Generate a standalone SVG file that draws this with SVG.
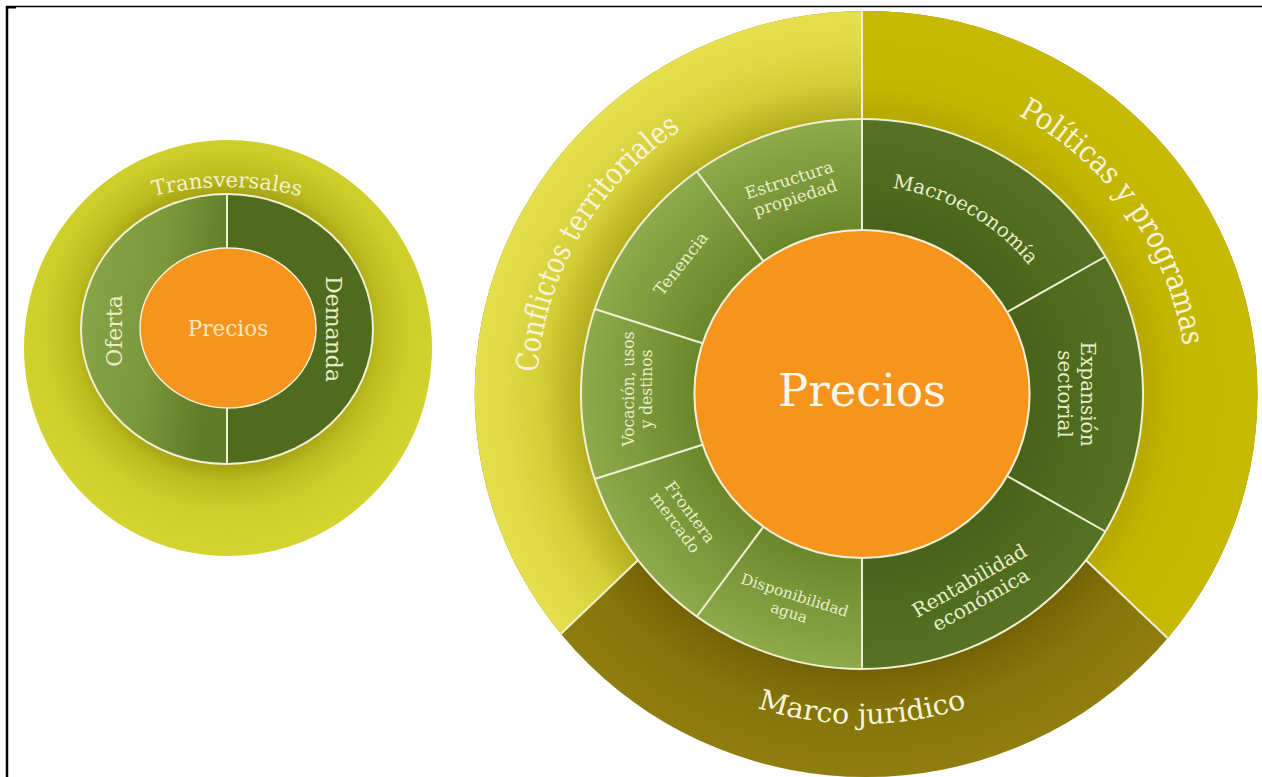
<svg xmlns="http://www.w3.org/2000/svg" width="1262" height="777" viewBox="0 0 1262 777">
<style>
.t{font-family:'DejaVu Serif','Liberation Serif',serif;text-anchor:middle}
.seg{fill:#e9edc9}
.big{fill:#f8f5dc}
.div{stroke:#f1efd3;stroke-width:2;fill:none}
</style>
<defs>
<radialGradient id="gSmallOuter" gradientUnits="userSpaceOnUse" cx="227" cy="329" r="220">
<stop offset="0.62" stop-color="#a6a414"/>
<stop offset="0.7" stop-color="#bcbc20"/>
<stop offset="0.82" stop-color="#cccd29"/>
<stop offset="1" stop-color="#d3d42f"/>
</radialGradient>
<linearGradient id="gOferta" x1="0" y1="0" x2="1" y2="0.3">
<stop offset="0" stop-color="#8aa749"/>
<stop offset="0.6" stop-color="#7a9739"/>
<stop offset="1" stop-color="#5f7c29"/>
</linearGradient>
<radialGradient id="gConf" gradientUnits="userSpaceOnUse" cx="0" cy="0" r="383">
<stop offset="0.70" stop-color="#a39c12"/>
<stop offset="0.72" stop-color="#b5ae1e"/>
<stop offset="0.82" stop-color="#d4ce38"/>
<stop offset="0.92" stop-color="#e0da46"/>
<stop offset="1" stop-color="#e6e04e"/>
</radialGradient>
<radialGradient id="gPol" gradientUnits="userSpaceOnUse" cx="0" cy="0" r="383">
<stop offset="0.70" stop-color="#a89c00"/>
<stop offset="0.72" stop-color="#b6a900"/>
<stop offset="0.8" stop-color="#c3b600"/>
<stop offset="1" stop-color="#c7ba04"/>
</radialGradient>
<radialGradient id="gMarco" gradientUnits="userSpaceOnUse" cx="0" cy="0" r="383">
<stop offset="0.70" stop-color="#665604"/>
<stop offset="0.72" stop-color="#746306"/>
<stop offset="0.84" stop-color="#867509"/>
<stop offset="1" stop-color="#8f7e0e"/>
</radialGradient>
<radialGradient id="gLight" gradientUnits="userSpaceOnUse" cx="0" cy="0" r="275">
<stop offset="0.6" stop-color="#6a882a"/>
<stop offset="0.8" stop-color="#7c993b"/>
<stop offset="1" stop-color="#8dab4b"/>
</radialGradient>
<radialGradient id="gDark" gradientUnits="userSpaceOnUse" cx="0" cy="0" r="275">
<stop offset="0.6" stop-color="#48641b"/>
<stop offset="1" stop-color="#567324"/>
</radialGradient>
<clipPath id="cpOuter"><circle cx="4" cy="0" r="383"/></clipPath>
<path id="pTrans" d="M34.2,257.2 A300,300 0 0,1 419.8,257.2"/>
<path id="pConf" d="M-298.8,108.8 A318,318 0 0,1 -55.2,-313.2"/>
<path id="pPol" d="M27.7,-316.8 A318,318 0 0,1 307.2,82.3"/>
<path id="pMarco" d="M-285.8,165 A330,330 0 0,0 285.8,165"/>
<path id="pMacro" d="M0,-208 A208,208 0 0,1 180.1,-104"/>
</defs>
<rect width="1262" height="777" fill="#ffffff"/>
<g id="frame" stroke="#000">
<line x1="6" y1="6.5" x2="1262" y2="6.5" stroke-width="1.5"/>
<line x1="7" y1="6" x2="7" y2="777" stroke-width="2.5"/>
<rect x="6" y="6" width="10" height="2.5" stroke="none" fill="#000"/>
</g>

<g id="small-diagram">
<g id="transversales">
<ellipse cx="228" cy="348" rx="204" ry="208" fill="url(#gSmallOuter)"/>
<text class="t" font-size="21" fill="#f4f1cc"><textPath href="#pTrans" startOffset="50%">Transversales</textPath></text>
</g>
<g id="oferta">
<path d="M227,194 A146,135 0 0,0 227,464 Z" fill="url(#gOferta)"/>
<text class="t seg" font-size="22" dominant-baseline="central" transform="translate(114,331) rotate(-90)">Oferta</text>
</g>
<g id="demanda">
<path d="M227,194 A146,135 0 0,1 227,464 Z" fill="#4f6b1e"/>
<text class="t seg" font-size="22" dominant-baseline="central" transform="translate(333,329) rotate(90)">Demanda</text>
</g>
<g id="small-lines" class="div" stroke-width="1.5">
<ellipse cx="227" cy="329" rx="146" ry="135"/>
<line x1="227" y1="194" x2="227" y2="464"/>
</g>
<g id="precios-small">
<ellipse cx="228" cy="328" rx="88" ry="80" fill="#f7941d" stroke="#f4efd6" stroke-width="1.5"/>
<text class="t" x="228" y="336" font-size="21.5" fill="#f8e8c8">Precios</text>
</g>
</g>

<g id="big-diagram" transform="translate(862,394) scale(1.022,1)">
<g id="marco-juridico">
<circle cx="4" cy="0" r="383" fill="url(#gMarco)"/>
<text class="t big" font-size="28"><textPath href="#pMarco" startOffset="50%">Marco jurídico</textPath></text>
</g>
<g id="conflictos-territoriales">
<polygon clip-path="url(#cpOuter)" points="0,-420 0,0 -110,61 -448,389 -470,389 -470,-420" fill="url(#gConf)"/>
<text class="t big" font-size="30"><textPath href="#pConf" startOffset="50%" textLength="290" lengthAdjust="spacingAndGlyphs">Conflictos territoriales</textPath></text>
</g>
<g id="politicas-programas">
<polygon clip-path="url(#cpOuter)" points="0,-420 0,0 110,61 448,389 470,389 470,-420" fill="url(#gPol)"/>
<text class="t big" font-size="30"><textPath href="#pPol" startOffset="50%" textLength="292" lengthAdjust="spacingAndGlyphs">Políticas y programas</textPath></text>
</g>

<g id="estructura-propiedad">
<path d="M0,0 L-161.6,-222.5 A275,275 0 0,1 0,-275 Z" fill="url(#gLight)"/>
<g transform="translate(-68,-204) rotate(-18)" class="t seg" font-size="16.5">
<text y="-5">Estructura</text><text y="14">propiedad</text></g>
</g>
<g id="tenencia">
<path d="M0,0 L-261.5,-85 A275,275 0 0,1 -161.6,-222.5 Z" fill="url(#gLight)"/>
<text class="t seg" font-size="16.5" dominant-baseline="central" transform="translate(-177,-130) rotate(-52)">Tenencia</text>
</g>
<g id="vocacion-usos-destinos">
<path d="M0,0 L-261.5,85 A275,275 0 0,1 -261.5,-85 Z" fill="url(#gLight)"/>
<g transform="translate(-220,-5) rotate(-90)" class="t seg" font-size="15.5">
<text y="-3">Vocación, usos</text><text y="15">y destinos</text></g>
</g>
<g id="frontera-mercado">
<path d="M0,0 L-161.6,222.5 A275,275 0 0,1 -261.5,85 Z" fill="url(#gLight)"/>
<g transform="translate(-175,123) rotate(54)" class="t seg" font-size="16">
<text y="-3">Frontera</text><text y="15">mercado</text></g>
</g>
<g id="disponibilidad-agua">
<path d="M0,0 L0,275 A275,275 0 0,1 -161.6,222.5 Z" fill="url(#gLight)"/>
<g transform="translate(-68,208) rotate(18)" class="t seg" font-size="15">
<text y="-2">Disponibilidad</text><text y="16">agua</text></g>
</g>
<g id="rentabilidad-economica">
<path d="M0,0 L238.2,137.5 A275,275 0 0,1 0,275 Z" fill="url(#gDark)"/>
<g transform="translate(110,195) rotate(-30)" class="t seg" font-size="19.5">
<text y="-3">Rentabilidad</text><text y="19">económica</text></g>
</g>
<g id="expansion-sectorial">
<path d="M0,0 L238.2,-137.5 A275,275 0 0,1 238.2,137.5 Z" fill="url(#gDark)"/>
<g transform="translate(210,0) rotate(90)" class="t seg" font-size="20">
<text y="-4">Expansión</text><text y="18">sectorial</text></g>
</g>
<g id="macroeconomia">
<path d="M0,0 L0,-275 A275,275 0 0,1 238.2,-137.5 Z" fill="url(#gDark)"/>
<text class="t seg" font-size="19.5"><textPath href="#pMacro" startOffset="50%">Macroeconomía</textPath></text>
</g>

<g id="dividers" class="div">
<circle cx="0" cy="0" r="275"/>
<line x1="0" y1="-164" x2="0" y2="-383"/>
<line x1="142" y1="-82" x2="238.2" y2="-137.5"/>
<line x1="142" y1="82" x2="238.2" y2="137.5"/>
<line x1="0" y1="164" x2="0" y2="275"/>
<line x1="-96.4" y1="132.7" x2="-161.6" y2="222.5"/>
<line x1="-156" y1="50.7" x2="-261.5" y2="85"/>
<line x1="-156" y1="-50.7" x2="-261.5" y2="-85"/>
<line x1="-96.4" y1="-132.7" x2="-161.6" y2="-222.5"/>
<line clip-path="url(#cpOuter)" x1="-219" y1="166" x2="-305" y2="250"/>
<line clip-path="url(#cpOuter)" x1="219" y1="166" x2="305" y2="250"/>
</g>

<g id="precios">
<circle cx="0" cy="0" r="164" fill="#f7941d" stroke="#f4efd6" stroke-width="2"/>
<text class="t" x="0" y="12" font-size="44" fill="#fff8ec">Precios</text>
</g>
</g>
</svg>
